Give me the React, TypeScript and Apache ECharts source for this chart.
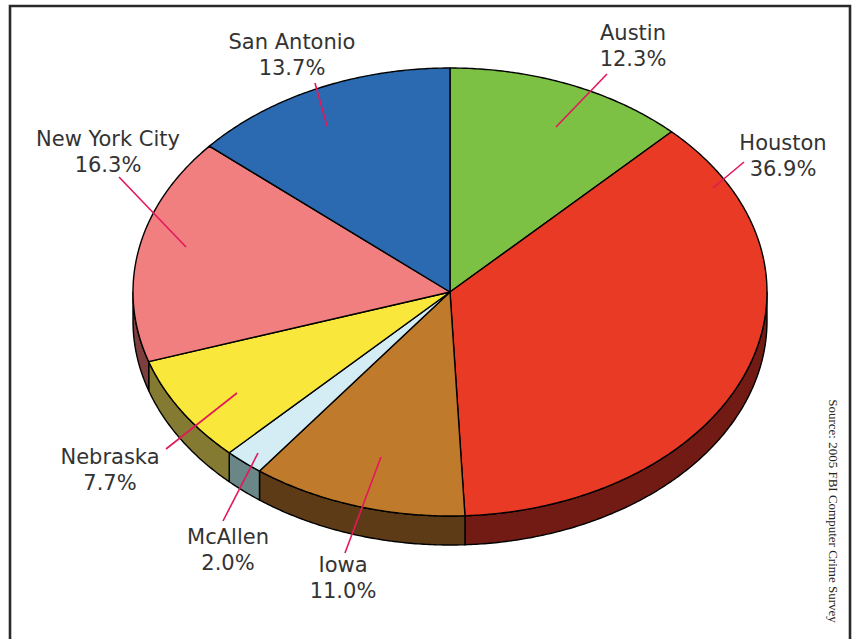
import React, { useEffect, useRef } from "react";
import * as echarts from "echarts";

const cities = ["Austin", "Houston", "Iowa", "McAllen", "Nebraska", "New York City", "San Antonio"];
const shares = [12.3, 36.9, 11.0, 2.0, 7.7, 16.3, 13.7];
const sourceNote = "Source: 2005 FBI Computer Crime Survey";

const topColors = ["#7CC143", "#E83A25", "#C07A2B", "#D4ECF3", "#F9E83B", "#F27F7F", "#2B6AB1"];
const sideColors = ["#3F6122", "#721B14", "#5E3B17", "#6A8687", "#857A32", "#7E3E3E", "#163659"];

// label layout: text centre and leader-line end points
const labelLayout = [
  { tx: 633, ty: 33, x1: 607, y1: 74, x2: 556, y2: 127 },
  { tx: 783, ty: 143, x1: 744, y1: 162, x2: 713, y2: 188 },
  { tx: 343, ty: 565, x1: 345, y1: 553, x2: 381, y2: 457 },
  { tx: 228, ty: 537, x1: 223, y1: 521, x2: 258, y2: 453 },
  { tx: 110, ty: 457, x1: 166, y1: 449, x2: 237, y2: 393 },
  { tx: 108, ty: 139, x1: 119, y1: 177, x2: 186, y2: 247 },
  { tx: 292, ty: 42, x1: 315, y1: 83, x2: 327, y2: 126 },
];

const CX = 450, CY = 292, RX = 317, RY = 224, DEPTH = 29;

function pt(deg: number, dy = 0): number[] {
  const r = (deg * Math.PI) / 180;
  return [CX + RX * Math.sin(r), CY - RY * Math.cos(r) + dy];
}

function arc(a0: number, a1: number, dy = 0): number[][] {
  const pts: number[][] = [];
  const n = Math.max(2, Math.ceil(Math.abs(a1 - a0) / 0.5));
  for (let i = 0; i <= n; i++) pts.push(pt(a0 + ((a1 - a0) * i) / n, dy));
  return pts;
}

export default function App() {
  const ref = useRef<HTMLDivElement>(null);
  useEffect(() => {
    document.body.style.margin = "0";
    const chart = echarts.init(ref.current!, null, { renderer: "svg" });
    const total = shares.reduce((a, b) => a + b, 0);
    const starts: number[] = [];
    let acc = 0;
    shares.forEach((v) => {
      starts.push((acc / total) * 360);
      acc += v;
    });

    const renderItem = (params: any, api: any) => {
      const i = params.dataIndex;
      const v = api.value(0);
      const a0 = starts[i];
      const a1 = a0 + (v / total) * 360;
      const children: any[] = [];
      const s0 = Math.max(a0, 90), s1 = Math.min(a1, 270);
      if (s1 > s0) {
        const top = arc(s0, s1, 0);
        const bot = arc(s0, s1, DEPTH).reverse();
        children.push({
          type: "polygon",
          shape: { points: top.concat(bot) },
          style: { fill: sideColors[i], stroke: "#000", lineWidth: 1.4, lineJoin: "round" },
          z2: 1,
        });
      }
      children.push({
        type: "polygon",
        shape: { points: [[CX, CY]].concat(arc(a0, a1, 0)) },
        style: { fill: topColors[i], stroke: "#000", lineWidth: 1.4, lineJoin: "round" },
        z2: 2,
      });
      const L = labelLayout[i];
      children.push({
        type: "line",
        shape: { x1: L.x1, y1: L.y1, x2: L.x2, y2: L.y2 },
        style: { stroke: "#E3175A", lineWidth: 1.6 },
        z2: 10,
      });
      children.push({
        type: "text",
        style: {
          text: cities[i] + "\n" + v.toFixed(1) + "%",
          x: L.tx,
          y: L.ty - 13,
          align: "center",
          verticalAlign: "top",
          fontSize: 21,
          lineHeight: 26,
          fontFamily: "DejaVu Sans",
          fill: "#333333",
        },
        z2: 10,
      });
      return { type: "group", children };
    };

    chart.setOption({
      animation: false,
      backgroundColor: "#ffffff",
      series: [
        {
          type: "custom",
          coordinateSystem: "none",
          renderItem,
          data: shares.map((v, i) => ({ name: cities[i], value: [v] })),
        },
      ],
      graphic: [
        {
          type: "polyline",
          shape: { points: [[10, 650], [10, 6], [850, 6], [850, 650]] },
          style: { stroke: "#2a2a2a", lineWidth: 2.6, fill: "none" },
        },
        {
          type: "text",
          x: 833,
          y: 511,
          rotation: -Math.PI / 2,
          style: {
            text: sourceNote,
            align: "center",
            verticalAlign: "middle",
            fontSize: 13,
            fontFamily: "Liberation Serif",
            fill: "#222222",
          },
        },
      ],
    });
    return () => chart.dispose();
  }, []);
  return <div ref={ref} style={{ width: 856, height: 639 }} />;
}
